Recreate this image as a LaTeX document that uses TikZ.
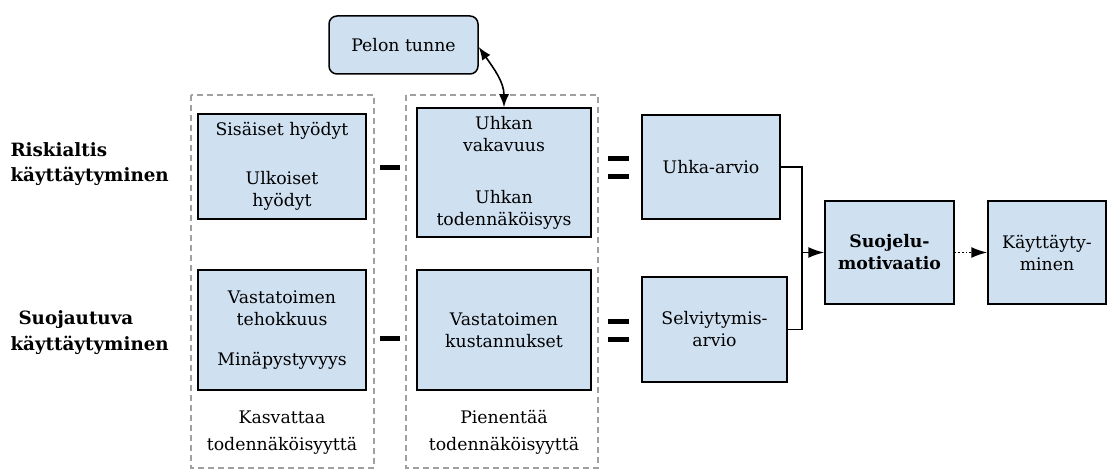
\documentclass[tikz,border=0pt]{standalone}
\usepackage{fontspec}
\setmainfont{DejaVu Serif}
\usetikzlibrary{arrows.meta}
\definecolor{boxfill}{RGB}{207,224,241}
\definecolor{dashgray}{RGB}{160,160,160}
\tikzset{
  box/.style={draw=black, line width=1.5pt, fill=boxfill, align=center, inner sep=2pt,
    font=\fontsize{17.3}{22}\selectfont},
  group/.style={draw=dashgray, line width=1.2pt, dash pattern=on 6pt off 4pt},
  lbl/.style={align=center, font=\fontsize{17.3}{27}\selectfont},
  side/.style={align=left, font=\bfseries\fontsize{18.3}{25.5}\selectfont},
  conn/.style={line width=1.6pt},
  tip/.style={-{Latex[length=16pt,width=11pt]}},
  opbar/.style={fill=black},
}
\begin{document}
\begin{tikzpicture}[x=1pt,y=-1pt]
\useasboundingbox (0,0) rectangle (1107,470);
% dashed groups
\draw[group] (191,95) rectangle (374,468);
\draw[group] (406,95) rectangle (598,468);
% boxes
\node[box, rounded corners=8pt, minimum width=149pt, minimum height=58pt] (pelon) at (403.5,45) {Pelon tunne};
\node[box, minimum width=168pt, minimum height=105pt] (sis) at (282,166.5) {Sisäiset hyödyt\\[27pt]Ulkoiset\\hyödyt};
\node[box, minimum width=174pt, minimum height=129pt] (uhk) at (504,172.5) {Uhkan\\vakavuus\\[30pt]Uhkan\\todennäköisyys};
\node[box, minimum width=168pt, minimum height=120pt] (vast1) at (282,330) {Vastatoimen\\tehokkuus\\[18pt]Minäpystyvyys};
\node[box, minimum width=174pt, minimum height=120pt] (vast2) at (504,330) {Vastatoimen\\kustannukset};
\node[box, minimum width=138pt, minimum height=104pt] (uarv) at (711,167) {Uhka-arvio};
\node[box, minimum width=145pt, minimum height=105pt] (sarv) at (714.5,329.5) {Selviytymis-\\arvio};
\node[box, minimum width=129pt, minimum height=103pt, font=\bfseries\fontsize{17.3}{22}\selectfont] (suo) at (889.5,252.5) {Suojelu-\\motivaatio};
\node[box, minimum width=118pt, minimum height=103pt] (kay) at (1047,252.5) {Käyttäyty-\\minen};
% side labels
\node[side, anchor=base west] (risk) at (7,182) {Riskialtis\\käyttäytyminen};
\node[side, anchor=base west] (suoj) at (7,350) {\hspace{8pt}Suojautuva\\käyttäytyminen};
% bottom labels
\node[lbl, anchor=base] (kasv) at (282,450) {Kasvattaa\\todennäköisyyttä};
\node[lbl, anchor=base] (pien) at (504,450) {Pienentää\\todennäköisyyttä};
% operators
\fill[opbar] (380,165) rectangle (400,170);
\fill[opbar] (380,336) rectangle (400,341);
\fill[opbar] (608,156) rectangle (629,161);
\fill[opbar] (608,174) rectangle (629,179);
\fill[opbar] (608,319) rectangle (629,324);
\fill[opbar] (608,337) rectangle (629,342);
% connectors
\coordinate (join) at (802,252.5);
\draw[conn] (uarv.east) -| (join);
\draw[conn] (sarv.east) -| (join);
\draw[conn, tip] (join) -- (suo.west);
\draw[conn, tip, dotted] (suo.east) -- (kay.west);
\draw[conn, {Latex[length=13pt,width=10pt]}-{Latex[length=13pt,width=10pt]}] (pelon.east) ++(0,2) to[out=-55,in=90] (uhk.north);
\end{tikzpicture}
\end{document}
